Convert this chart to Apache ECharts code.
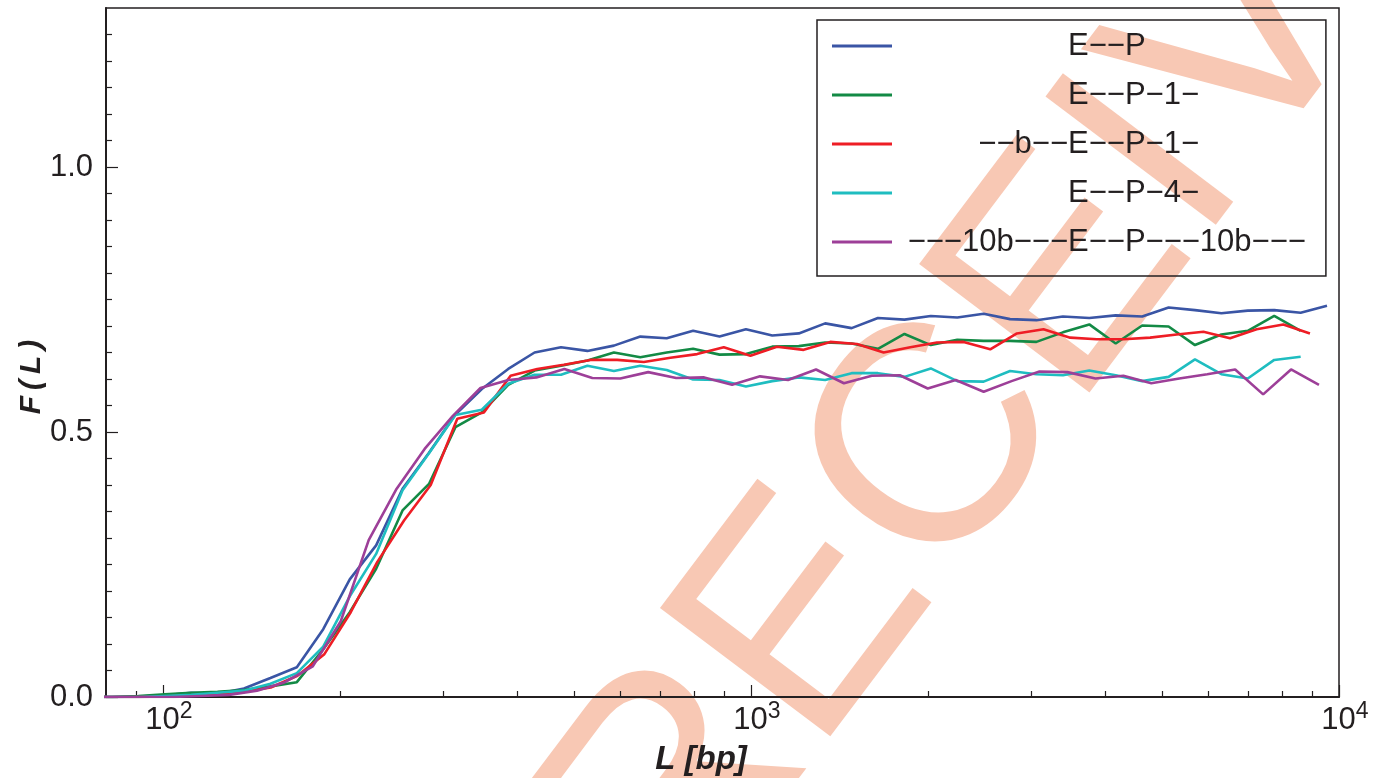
<!DOCTYPE html>
<html>
<head>
<meta charset="utf-8">
<script src="https://cdn.jsdelivr.net/npm/echarts@6/dist/echarts.min.js"></script>
<style>
html,body{margin:0;padding:0;background:#fff;}
#chart{width:1380px;height:778px;}
</style>
</head>
<body>
<div id="chart"></div>
<script>
// ---- data (L in bp, F(L) values) ----
var seriesNames = ['E\u2212\u2212P', 'E\u2212\u2212P\u22121\u2212', '\u2212\u2212b\u2212\u2212E\u2212\u2212P\u22121\u2212', 'E\u2212\u2212P\u22124\u2212', '\u2212\u2212\u221210b\u2212\u2212\u2212E\u2212\u2212P\u2212\u2212\u221210b\u2212\u2212\u2212'];
var seriesColors = ['#3a55a5', '#138a45', '#ee1d25', '#1fbdc0', '#9d3f98'];

// common L grid for blue, green, cyan
var L_main = [73.8, 81.9, 90.8, 100.7, 111.7, 123.8, 137.3, 152.3, 168.9, 187.3, 207.8, 230.4, 255.5, 283.4, 314.3, 348.5, 386.5,
  428.5, 475.2, 527.0, 584.6, 648.3, 718.9, 797.2, 884.1, 980.4, 1087, 1206, 1337, 1483, 1644, 1824, 2022, 2243, 2487, 2758,
  3058, 3392, 3761, 4171, 4627, 5131, 5689, 6309, 6996, 7760, 8606, 9541];
var F_EP = [0, 0, 0.001, 0.003, 0.008, 0.006, 0.016, 0.036, 0.056, 0.128, 0.222, 0.286, 0.393, 0.461, 0.533, 0.581, 0.619,
  0.650, 0.660, 0.653, 0.663, 0.680, 0.677, 0.691, 0.680, 0.694, 0.682, 0.686, 0.705, 0.696, 0.715, 0.712, 0.719, 0.716, 0.723, 0.713,
  0.711, 0.718, 0.715, 0.720, 0.718, 0.735, 0.730, 0.724, 0.729, 0.730, 0.725, 0.738];
var F_EP1 = [0, 0, 0.002, 0.005, 0.008, 0.010, 0.013, 0.020, 0.028, 0.090, 0.160, 0.242, 0.352, 0.402, 0.509, 0.537, 0.589,
  0.616, 0.625, 0.635, 0.650, 0.641, 0.650, 0.657, 0.646, 0.647, 0.661, 0.662, 0.669, 0.667, 0.657, 0.685, 0.664, 0.674, 0.672, 0.672,
  0.670, 0.688, 0.703, 0.667, 0.701, 0.699, 0.664, 0.684, 0.691, 0.719, 0.691];
var F_EP4 = [0, 0, 0, 0.002, 0.004, 0.008, 0.012, 0.025, 0.045, 0.095, 0.190, 0.270, 0.390, 0.460, 0.532, 0.542, 0.591,
  0.608, 0.608, 0.625, 0.615, 0.625, 0.617, 0.599, 0.598, 0.586, 0.596, 0.603, 0.598, 0.611, 0.611, 0.604, 0.620, 0.596, 0.595, 0.615,
  0.609, 0.607, 0.616, 0.607, 0.596, 0.604, 0.637, 0.609, 0.601, 0.636, 0.642];

// L grid for the red series
var L_b = [73.5, 81.5, 90.5, 100.5, 111.5, 123.8, 137.4, 152.5, 169.3, 187.9, 208.6, 231.5, 257.0, 285.3,
  316.6, 351.4, 390.1, 433.0, 480.6, 533.4, 592.1, 657.3, 729.5, 809.8, 898.9, 997.7, 1107, 1229, 1364, 1514, 1681,
  1866, 2071, 2299, 2552, 2833, 3144, 3490, 3874, 4300, 4773, 5298, 5881, 6527, 7244, 8041, 8925];
var F_bEP1 = [0, 0, 0, 0.001, 0.003, 0.006, 0.010, 0.018, 0.040, 0.080, 0.160, 0.255, 0.333, 0.400,
  0.525, 0.537, 0.606, 0.619, 0.627, 0.636, 0.636, 0.632, 0.640, 0.647, 0.660, 0.644, 0.661, 0.655, 0.670, 0.666, 0.650,
  0.660, 0.669, 0.670, 0.656, 0.686, 0.694, 0.678, 0.675, 0.675, 0.678, 0.684, 0.689, 0.677, 0.694, 0.703, 0.686];

// L grid for the purple series
var L_10b = [74.9, 83.6, 93.2, 104.0, 116.0, 129.5, 144.5, 161.2, 179.8, 200.6, 223.8, 249.7, 278.6, 310.9,
  346.7, 386.8, 431.6, 481.5, 537.2, 599.4, 668.7, 746.1, 832.3, 928.6, 1036, 1156, 1290, 1439, 1605, 1791,
  1998, 2229, 2487, 2774, 3095, 3453, 3853, 4298, 4795, 5350, 5969, 6659, 7430, 8288, 9246];
var F_10b = [0, 0, 0, 0, 0.002, 0.004, 0.012, 0.028, 0.058, 0.143, 0.296, 0.393, 0.468, 0.530,
  0.583, 0.598, 0.603, 0.619, 0.602, 0.601, 0.613, 0.602, 0.603, 0.589, 0.605, 0.598, 0.618, 0.592, 0.606, 0.607,
  0.582, 0.598, 0.576, 0.596, 0.614, 0.613, 0.601, 0.606, 0.592, 0.601, 0.609, 0.618, 0.571, 0.618, 0.589];

// axes
var xMin = 80, xMax = 10000;
var xMajorTicks = [100, 1000, 10000];
var xMinorTicks = [90, 200, 300, 400, 500, 600, 700, 800, 900, 2000, 3000, 4000, 5000, 6000, 7000, 8000, 9000];
var yMin = 0, yMax = 1.3;
var yMajorTicks = [0, 0.5, 1.0];
var yMinorTicks = [0.05, 0.1, 0.15, 0.2, 0.25, 0.3, 0.35, 0.4, 0.45, 0.55, 0.6, 0.65, 0.7, 0.75, 0.8, 0.85, 0.9, 0.95, 1.05, 1.1, 1.15, 1.2, 1.25];
var xTitle = 'L [bp]';
var yTitle = 'F\u2009(\u2009L\u2009)';
var stampText = 'RECEIVED';

// ---- build ----
var lg = function (v) { return Math.log10(v); };
function pairs(xs, ys) {
  var out = [];
  for (var i = 0; i < ys.length; i++) out.push([lg(xs[i]), ys[i]]);
  return out;
}
var seriesData = [pairs(L_main, F_EP), pairs(L_main, F_EP1), pairs(L_b, F_bEP1), pairs(L_main, F_EP4), pairs(L_10b, F_10b)];

var FONT = 'Liberation Sans';
var INK = '#231f20';

var chart = echarts.init(document.getElementById('chart'), null, {renderer: 'canvas'});
var option = {
  backgroundColor: '#ffffff',
  animation: false,
  grid: {left: 106, right: 41, top: 8, bottom: 81, show: true, borderColor: INK, borderWidth: 1.5, backgroundColor: 'transparent'},
  xAxis: [{
    type: 'value', min: lg(xMin), max: lg(xMax), position: 'bottom',
    axisLine: {show: true, onZero: false, lineStyle: {color: INK, width: 2}},
    axisTick: {show: true, inside: true, length: 12, customValues: xMajorTicks.map(lg), lineStyle: {color: INK, width: 1.2}},
    axisLabel: {
      show: true, margin: 3, customValues: xMajorTicks.map(lg),
      formatter: function (v) { return '{b|10}{s|' + Math.round(v) + '}'; },
      rich: {
        b: {fontFamily: FONT, fontSize: 31, color: INK, lineHeight: 36, verticalAlign: 'bottom', padding: [0, 0, 0, 12]},
        s: {fontFamily: FONT, fontSize: 23, color: INK, lineHeight: 20, verticalAlign: 'top'}
      }
    },
    splitLine: {show: false}
  }, {
    type: 'value', min: lg(xMin), max: lg(xMax), position: 'bottom',
    axisLine: {show: false},
    axisTick: {show: true, inside: true, length: 6, customValues: xMinorTicks.map(lg), lineStyle: {color: INK, width: 1.2}},
    axisLabel: {show: false},
    splitLine: {show: false}
  }],
  yAxis: [{
    type: 'value', min: yMin, max: yMax, position: 'left',
    axisLine: {show: true, onZero: false, lineStyle: {color: INK, width: 2}},
    axisTick: {show: true, inside: true, length: 12, customValues: yMajorTicks, lineStyle: {color: INK, width: 1.2}},
    axisLabel: {
      show: true, margin: 13, customValues: yMajorTicks,
      formatter: function (v) { return v.toFixed(1); },
      fontFamily: FONT, fontSize: 31, color: INK
    },
    splitLine: {show: false}
  }, {
    type: 'value', min: yMin, max: yMax, position: 'left',
    axisLine: {show: false},
    axisTick: {show: true, inside: true, length: 6, customValues: yMinorTicks, lineStyle: {color: INK, width: 1.2}},
    axisLabel: {show: false},
    splitLine: {show: false}
  }],
  legend: {
    show: true, orient: 'vertical', left: 817, top: 20,
    itemWidth: 60, itemHeight: 3, itemGap: 13, icon: 'rect',
    padding: [8, 20, 16, 15],
    borderColor: INK, borderWidth: 1.5, backgroundColor: 'transparent',
    selectedMode: false,
    formatter: function (name) {
      var idx = name.indexOf('E');
      var pre = name.slice(0, idx), post = name.slice(idx);
      return '{pre|' + (pre || ' ') + '}{post|' + post + '}';
    },
    textStyle: {
      fontFamily: FONT, fontSize: 31, color: INK, lineHeight: 36,
      rich: {
        pre: {fontFamily: FONT, fontSize: 31, color: INK, lineHeight: 36, width: 171, align: 'right'},
        post: {fontFamily: FONT, fontSize: 31, color: INK, lineHeight: 36, align: 'right'}
      }
    },
    data: seriesNames
  },
  graphic: [
    {type: 'text', z: -100, x: 612, y: 884, rotation: 53 * Math.PI / 180, silent: true,
      style: {text: stampText, font: '310px "Liberation Sans"', fill: '#f8c8b4', textAlign: 'left', textVerticalAlign: 'middle'}},
    {type: 'text', x: 701, y: 760, style: {text: xTitle, font: 'italic bold 33px "Liberation Sans"', fill: INK, textAlign: 'center', textVerticalAlign: 'middle'}},
    {type: 'text', x: 32, y: 377, rotation: Math.PI / 2, style: {text: yTitle, font: 'italic bold 30px "Liberation Sans"', fill: INK, textAlign: 'center', textVerticalAlign: 'middle'}}
  ],
  series: seriesNames.map(function (n, i) {
    return {
      name: n, type: 'line', data: seriesData[i], xAxisIndex: 0, yAxisIndex: 0,
      showSymbol: false, symbol: 'none', smooth: false, clip: true,
      lineStyle: {color: seriesColors[i], width: 2.6},
      itemStyle: {color: seriesColors[i]}
    };
  })
};
chart.setOption(option);
</script>
</body>
</html>
